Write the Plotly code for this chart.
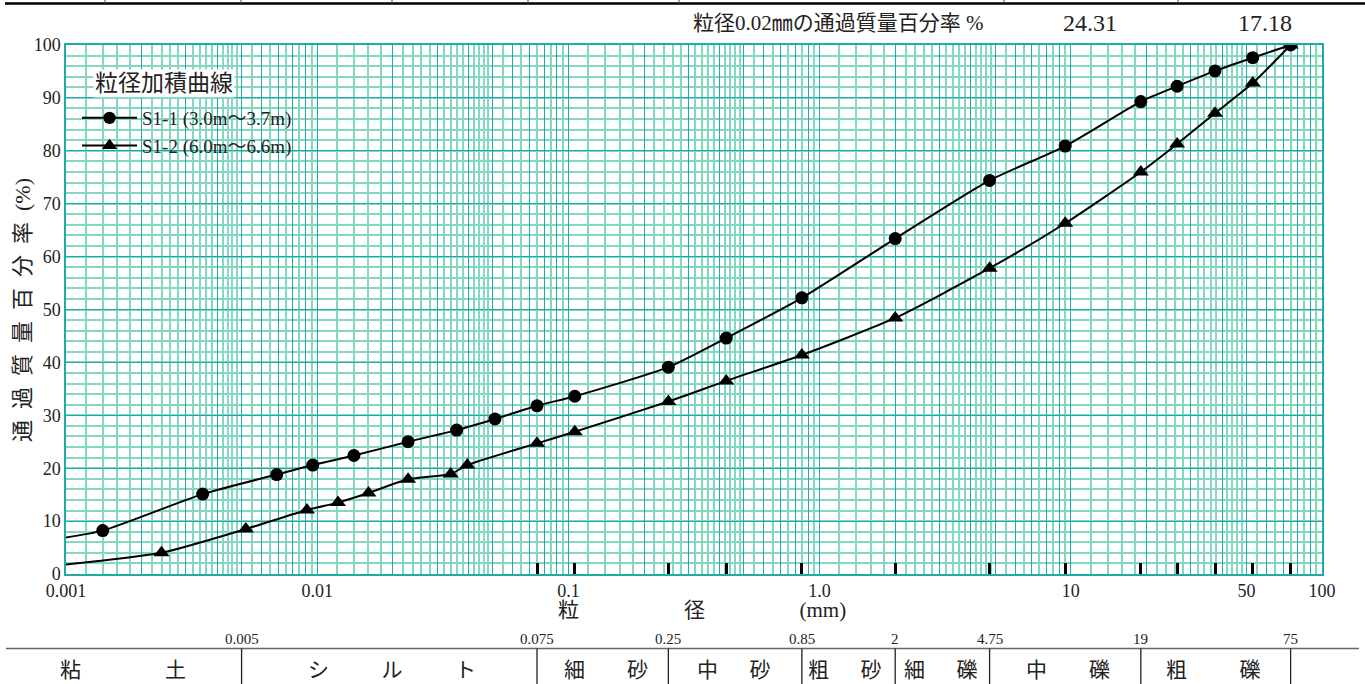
import numpy as np
import plotly.graph_objects as go

# ---------------- data ----------------
series_names = ["S1-1 (3.0m〜3.7m)", "S1-2 (6.0m〜6.6m)"]
series_symbols = ["circle", "triangle-up"]

size_s1_1 = [0.0014, 0.0035, 0.0069, 0.0096, 0.0140, 0.0230, 0.0359, 0.0510,
             0.075, 0.106, 0.25, 0.425, 0.85, 2, 4.75, 9.5, 19, 26.5, 37.5, 53, 75]
pct_s1_1 = [8.2, 15.1, 18.8, 20.6, 22.4, 25.0, 27.2, 29.3,
            31.8, 33.6, 39.1, 44.6, 52.2, 63.4, 74.4, 80.9, 89.3, 92.2, 95.1, 97.6, 100]

size_s1_2 = [0.0024, 0.0052, 0.0091, 0.0121, 0.0160, 0.0230, 0.0340, 0.0396,
             0.075, 0.106, 0.25, 0.425, 0.85, 2, 4.75, 9.5, 19, 26.5, 37.5, 53, 75]
pct_s1_2 = [4.0, 8.5, 12.1, 13.5, 15.3, 17.9, 18.9, 20.6,
            24.7, 26.9, 32.6, 36.5, 41.4, 48.4, 57.8, 66.3, 76.0, 81.3, 87.1, 92.8, 100]

# curves are drawn out to the left edge of the chart
curve_start_size = 0.001
curve_start_pct = [6.9, 1.8]

sieve_sizes = [0.075, 0.106, 0.25, 0.425, 0.85, 2, 4.75, 9.5, 19, 26.5, 37.5, 53, 75]

x_label_vals = [0.001, 0.01, 0.1, 1, 10, 50, 100]
x_label_text = ["0.001", "0.01", "0.1", "1.0", "10", "50", "100"]
y_tick_vals = list(range(0, 101, 10))

class_bounds = [0.005, 0.075, 0.25, 0.85, 2, 4.75, 19, 75]
class_bound_text = ["0.005", "0.075", "0.25", "0.85", "2", "4.75", "19", "75"]
class_names = ["粘　　　　土", "シ　　\u2002ル　　\u2002ト", "細　　砂", "中　\u2002砂",
               "粗　\u2002砂", "細　\u2002礫", "中　　礫", "粗　　\u2002礫"]

pass_002_label = "粒径0.02㎜の通過質量百分率 %"
pass_002_values = ["24.31", "17.18"]

# ---------------- layout constants ----------------
W, H = 1365, 684
L, R, T, B = 66, 43, 45, 110
PW, PH = W - L - R, H - T - B
DARK = "#1fabaa"
LIGHT = "#84d8c2"
FONT = "Liberation Serif, Noto Sans CJK JP, serif"


def px_x(p):
    return (p - L) / PW


def px_y(p):
    return (H - B - p) / PH


# grid values for log paper
major_x = [m * 10.0 ** k for k in range(-3, 2) for m in range(1, 10)] + [100.0]
mant_minor = [1.2, 1.4, 1.6, 1.8, 2.2, 2.4, 2.6, 2.8, 3.2, 3.4, 3.6, 3.8,
              4.2, 4.4, 4.6, 4.8, 5.5, 6.5, 7.5, 8.5, 9.5]
minor_x = [m * 10.0 ** k for k in range(-3, 2) for m in mant_minor]


def lab(v):
    for tv, tt in zip(x_label_vals, x_label_text):
        if abs(np.log10(v) - np.log10(tv)) < 1e-6:
            return tt
    return ""


major_text = [lab(v) for v in major_x]

fig = go.Figure()

for name, sym, xs, ys, y0, ms in zip(series_names, series_symbols,
                                     [size_s1_1, size_s1_2], [pct_s1_1, pct_s1_2],
                                     curve_start_pct, [13, 14]):
    fig.add_trace(go.Scatter(
        x=[curve_start_size] + xs, y=[y0] + ys, name=name,
        mode="lines+markers",
        line=dict(color="black", width=2, shape="spline", smoothing=0.6),
        marker=dict(symbol=sym, size=[0] + [ms] * len(xs), color="black", opacity=1,
                    line=dict(width=0)),
        hoverinfo="x+y",
    ))

# invisible trace on sieve axis
fig.add_trace(go.Scatter(x=sieve_sizes, y=[None] * len(sieve_sizes), xaxis="x2",
                         showlegend=False, hoverinfo="skip", mode="markers"))

fig.update_layout(
    width=W, height=H, autosize=False,
    margin=dict(l=L, r=R, t=T, b=B),
    paper_bgcolor="white", plot_bgcolor="white",
    font=dict(family=FONT, size=18, color="#222"),
    showlegend=True,
    legend=dict(x=px_x(77), y=px_y(99), xanchor="left", yanchor="top",
                bgcolor="rgba(0,0,0,0)", font=dict(size=19, color="#222"),
                itemwidth=55, tracegroupgap=0),
    xaxis=dict(type="log", range=[-3, 2], tickmode="array", tickvals=major_x,
               ticktext=major_text, ticks="", ticklen=0, showgrid=True, gridcolor=DARK, gridwidth=1.2,
               minor=dict(tickvals=minor_x, showgrid=True, gridcolor=LIGHT, gridwidth=1.5, ticks=""),
               showline=True, linecolor=DARK, linewidth=1.5, mirror=True, zeroline=False,
               tickfont=dict(size=18)),
    xaxis2=dict(type="log", range=[-3, 2], overlaying="x", anchor="y", side="bottom",
                tickmode="array", tickvals=sieve_sizes, ticks="inside", ticklen=11,
                tickwidth=3, tickcolor="black", showticklabels=False, showgrid=False,
                showline=False, zeroline=False),
    yaxis=dict(range=[0, 100], tickmode="array", tickvals=y_tick_vals, ticks="", ticklen=0,
               showgrid=True, gridcolor=DARK, gridwidth=1.2,
               minor=dict(dtick=2, showgrid=True, gridcolor=LIGHT, gridwidth=1.5, ticks=""),
               showline=True, linecolor=DARK, linewidth=1.5, mirror=True, zeroline=False,
               tickfont=dict(size=18)),
)

ann = []
# legend title
ann.append(dict(text="粒径加積曲線", xref="paper", yref="paper", x=px_x(164), y=px_y(83),
                showarrow=False, font=dict(size=23, color="#222"), bgcolor="white",
                xanchor="center", yanchor="middle"))
# y-axis title
ann.append(dict(text="通\u2002過\u2002質\u2002量\u2002百\u2002分\u2002率\u2002(%)", xref="paper", yref="paper",
                x=px_x(22), y=px_y(310), textangle=-90, showarrow=False,
                font=dict(size=22, color="#222"), xanchor="center", yanchor="middle"))
# x-axis title
ann.append(dict(text="粒　　　　　径　　　　\u2002(mm)", xref="paper", yref="paper",
                x=px_x(702), y=px_y(610), showarrow=False, font=dict(size=21, color="#222"),
                xanchor="center", yanchor="middle"))
# top label and values
ann.append(dict(text=pass_002_label, xref="paper", yref="paper", x=px_x(838), y=px_y(23),
                showarrow=False, font=dict(size=21, color="#222"), xanchor="center", yanchor="middle"))
for v, cx in zip(pass_002_values, [1090, 1265]):
    ann.append(dict(text=v, xref="paper", yref="paper", x=px_x(cx), y=px_y(23),
                    showarrow=False, font=dict(size=24, color="#222"), xanchor="center", yanchor="middle"))
# class boundary numbers
for b, t in zip(class_bounds, class_bound_text):
    ann.append(dict(text=t, xref="x", yref="paper", x=np.log10(b), y=px_y(639), showarrow=False,
                    font=dict(size=15, color="#222"), xanchor="center", yanchor="middle"))
# class names
for n, cx in zip(class_names, [122.5, 391.5, 606, 734.5, 845, 941, 1067.5, 1213]):
    ann.append(dict(text=n, xref="paper", yref="paper", x=px_x(cx), y=px_y(670), showarrow=False,
                    font=dict(size=21, color="#222"), xanchor="center", yanchor="middle"))
fig.update_layout(annotations=ann)

shapes = []
# table line and dividers
shapes.append(dict(type="line", xref="paper", yref="paper", x0=px_x(6), x1=px_x(1359),
                   y0=px_y(648.5), y1=px_y(648.5), line=dict(color="#666", width=1.5)))
for b in class_bounds:
    shapes.append(dict(type="line", xref="x", yref="paper", x0=b, x1=b,
                       y0=px_y(648.5), y1=px_y(690), line=dict(color="#222", width=1.3)))
# remnant of upper table
shapes.append(dict(type="line", xref="paper", yref="paper", x0=px_x(5), x1=px_x(1370),
                   y0=px_y(3.5), y1=px_y(3.5), line=dict(color="black", width=2.5)))
for vx in [105, 241, 392, 528, 679, 1004, 1178]:
    shapes.append(dict(type="line", xref="paper", yref="paper", x0=px_x(vx), x1=px_x(vx),
                       y0=px_y(3.5), y1=px_y(-2), line=dict(color="#444", width=1)))
fig.update_layout(shapes=shapes)

fig.write_html("out.html", config={"displayModeBar": False},
               post_script="document.body.style.margin='0px';document.body.style.overflow='hidden';")
